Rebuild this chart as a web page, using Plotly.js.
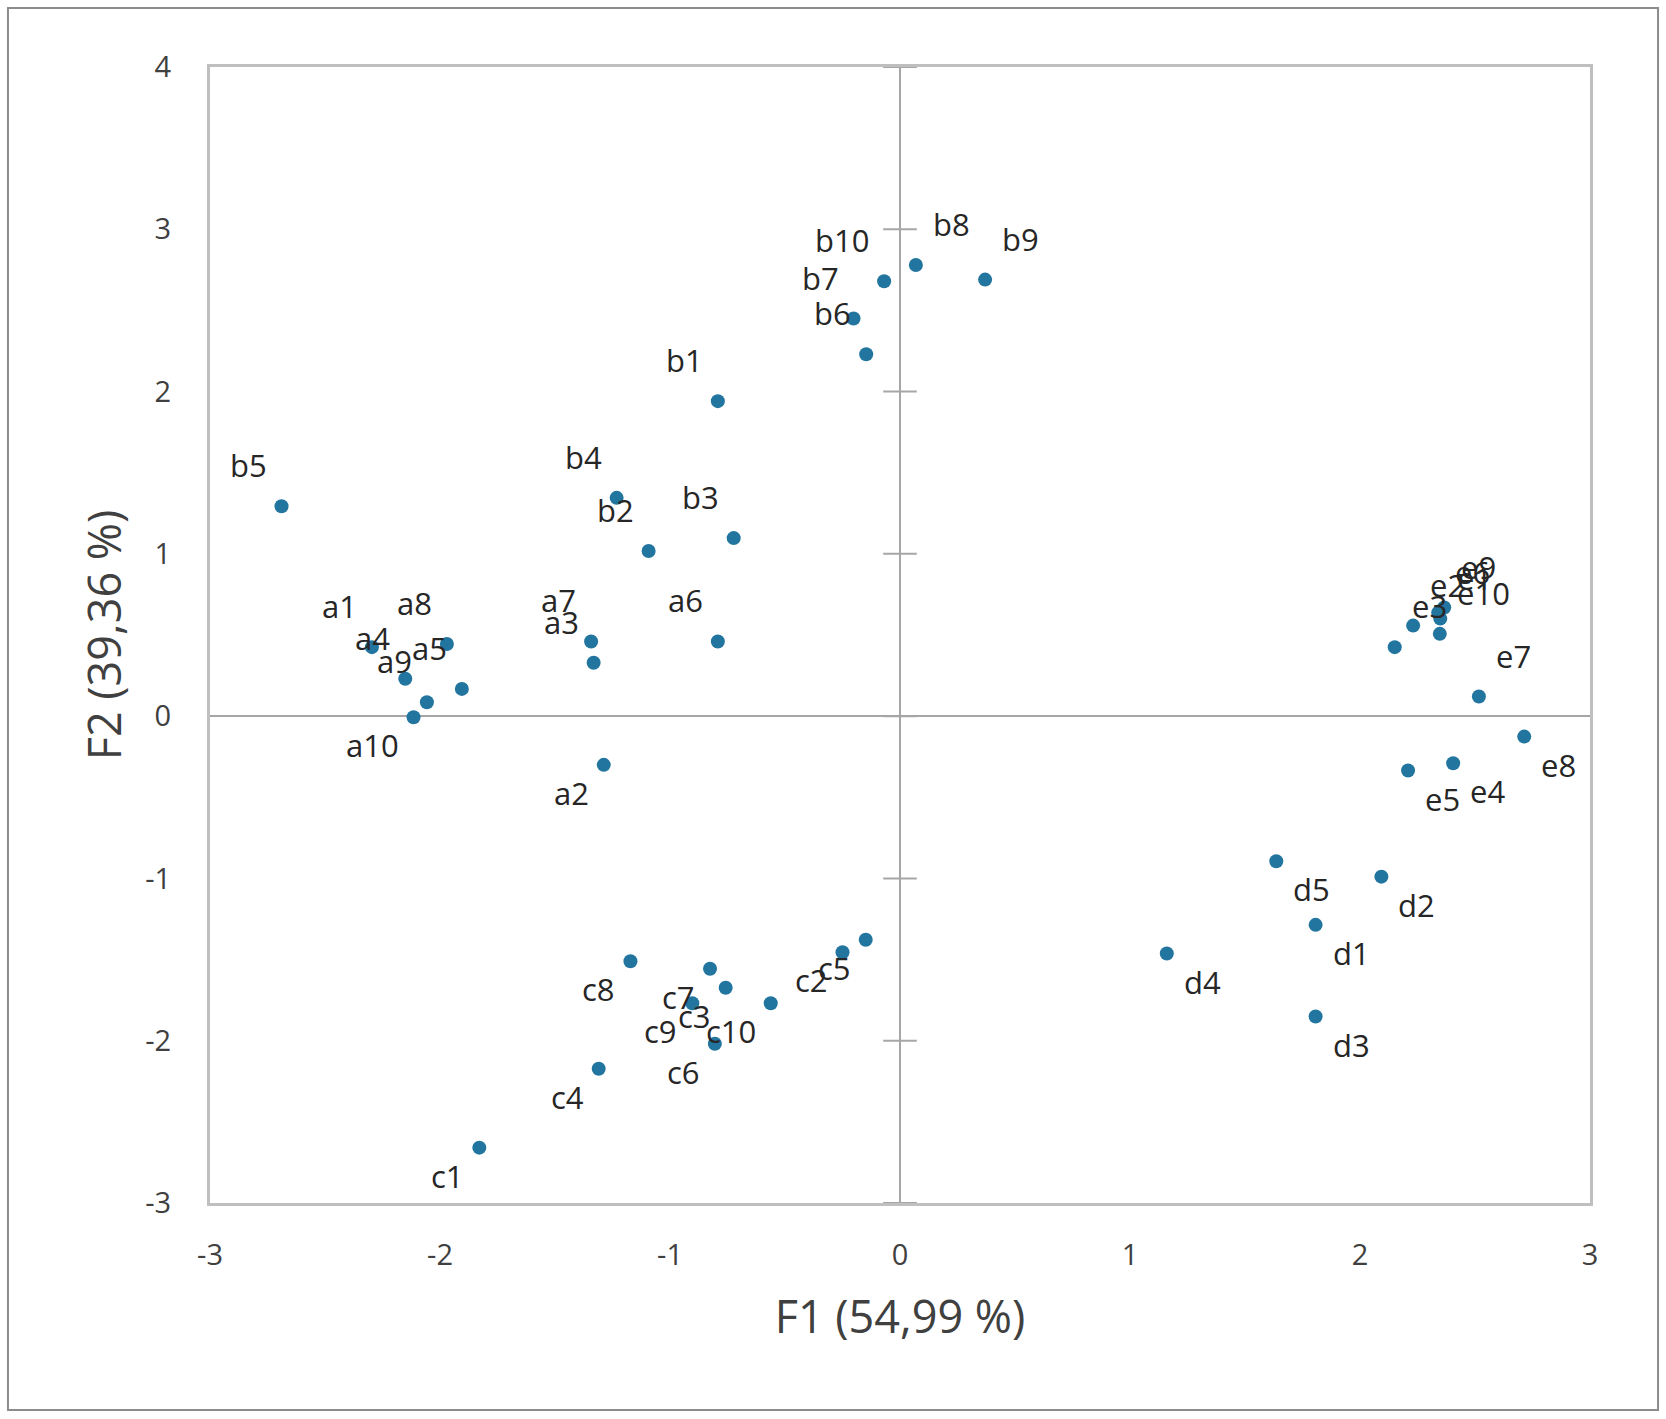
<!DOCTYPE html>
<html>
<head>
<meta charset="utf-8">
<script src="https://cdn.plot.ly/plotly-3.0.1.min.js"></script>
<style>
  body { margin: 0; background: #fff; }
  #chart { width: 1666px; height: 1419px; }
</style>
</head>
<body>
<div id="chart"></div>
<script>
// sample names and their scores on the first two factors
var names = ["a1","a2","a3","a4","a5","a6","a7","a8","a9","a10",
             "b1","b2","b3","b4","b5","b6","b7","b8","b9","b10",
             "c1","c2","c3","c4","c5","c6","c7","c8","c9","c10",
             "d1","d2","d3","d4","d5",
             "e1","e2","e3","e4","e5","e6","e7","e8","e9","e10"];
var f1 = [-2.296,-1.288,-1.332,-2.151,-1.905,-0.792,-1.343,-1.970,-2.057,-2.115,
          -0.792,-1.093,-0.723,-1.232,-2.689,-0.147,-0.202,0.069,0.370,-0.069,
          -1.829,-0.250,-0.758,-1.310,-0.149,-0.805,-0.826,-1.172,-0.903,-0.562,
          1.807,2.093,1.807,1.160,1.636,
          2.349,2.231,2.151,2.405,2.209,2.340,2.517,2.714,2.366,2.347];
var f2 = [0.425,-0.300,0.329,0.230,0.168,0.460,0.460,0.445,0.086,-0.007,
          1.941,1.018,1.097,1.345,1.293,2.230,2.450,2.780,2.690,2.680,
          -2.659,-1.455,-1.674,-2.173,-1.378,-2.019,-1.557,-1.510,-1.769,-1.769,
          -1.286,-0.989,-1.851,-1.463,-0.894,
          0.601,0.558,0.425,-0.290,-0.335,0.638,0.121,-0.126,0.669,0.507];

// where each label sits around its point (u/l = upper/lower, l/r = left/right)
var labelSide = ["ul","ll","ul","ul","ul","ul","ul","ul","ul","ll",
                 "ul","ul","ul","ul","ul","ul","ul","ur","ur","ul",
                 "ll","ll","ll","ll","ll","ll","ll","ll","ll","ll",
                 "lr","lr","lr","lr","lr",
                 "ur","ur","ur","lr","lr","ur","ur","lr","ur","ur"];

var xTicks = [-3,-2,-1,0,1,2,3];
var yTicks = [-3,-2,-1,0,1,2,3,4];

var font = "Open Sans, DejaVu Sans, sans-serif";
var axisGrey = "#bfbfbf";

// plain hyphen for negatives, as in the original
function tickText(v) { return String(v); }

var points = {
  x: f1, y: f2, mode: "markers", type: "scatter",
  marker: { color: "#22759e", size: 14 },
  hoverinfo: "text", text: names
};

// cross ticks along the vertical zero axis
var crossTicks = {
  x: yTicks.map(function () { return 0; }),
  y: yTicks,
  mode: "markers", type: "scatter", hoverinfo: "skip",
  marker: { symbol: "line-ew", size: 24, line: { color: "#a6a6a6", width: 2 } }
};

var labels = names.map(function (n, i) {
  var s = labelSide[i];
  var left = s.charAt(1) === "l";
  var up = s.charAt(0) === "u";
  return {
    x: f1[i], y: f2[i], text: n, showarrow: false,
    xanchor: left ? "right" : "left", yanchor: "middle",
    xshift: left ? -13 : 15, yshift: up ? 41 : -28,
    font: { family: font, size: 31, color: "#262626" }
  };
});

var layout = {
  width: 1666, height: 1419,
  margin: { l: 210, r: 76, t: 67, b: 216 },
  paper_bgcolor: "#fff", plot_bgcolor: "#fff",
  showlegend: false,
  xaxis: {
    range: [-3, 3], tickvals: xTicks, ticktext: xTicks.map(tickText),
    showgrid: false,
    zeroline: true, zerolinecolor: "#a6a6a6", zerolinewidth: 2,
    showline: true, mirror: true, linecolor: axisGrey, linewidth: 3,
    ticks: "", ticklabelstandoff: 24,
    tickfont: { family: font, size: 29, color: "#404040" },
    title: { text: "F1 (54,99 %)", standoff: 30,
             font: { family: font, size: 45, color: "#404040" } }
  },
  yaxis: {
    range: [-3, 4], tickvals: yTicks, ticktext: yTicks.map(tickText),
    showgrid: false,
    zeroline: true, zerolinecolor: "#a6a6a6", zerolinewidth: 2,
    showline: true, mirror: true, linecolor: axisGrey, linewidth: 3,
    ticks: "", ticklabelstandoff: 30,
    tickfont: { family: font, size: 29, color: "#404040" },
    title: { text: "F2 (39,36 %)", standoff: 10,
             font: { family: font, size: 45, color: "#404040" } }
  },
  annotations: labels,
  shapes: [{
    type: "rect", xref: "paper", yref: "paper",
    x0: -0.1464, x1: 1.0493, y0: -0.1822, y1: 1.0519,
    line: { color: "#8c8c8c", width: 2 }
  }]
};

Plotly.newPlot("chart", [crossTicks, points], layout, { displayModeBar: false });
</script>
</body>
</html>
